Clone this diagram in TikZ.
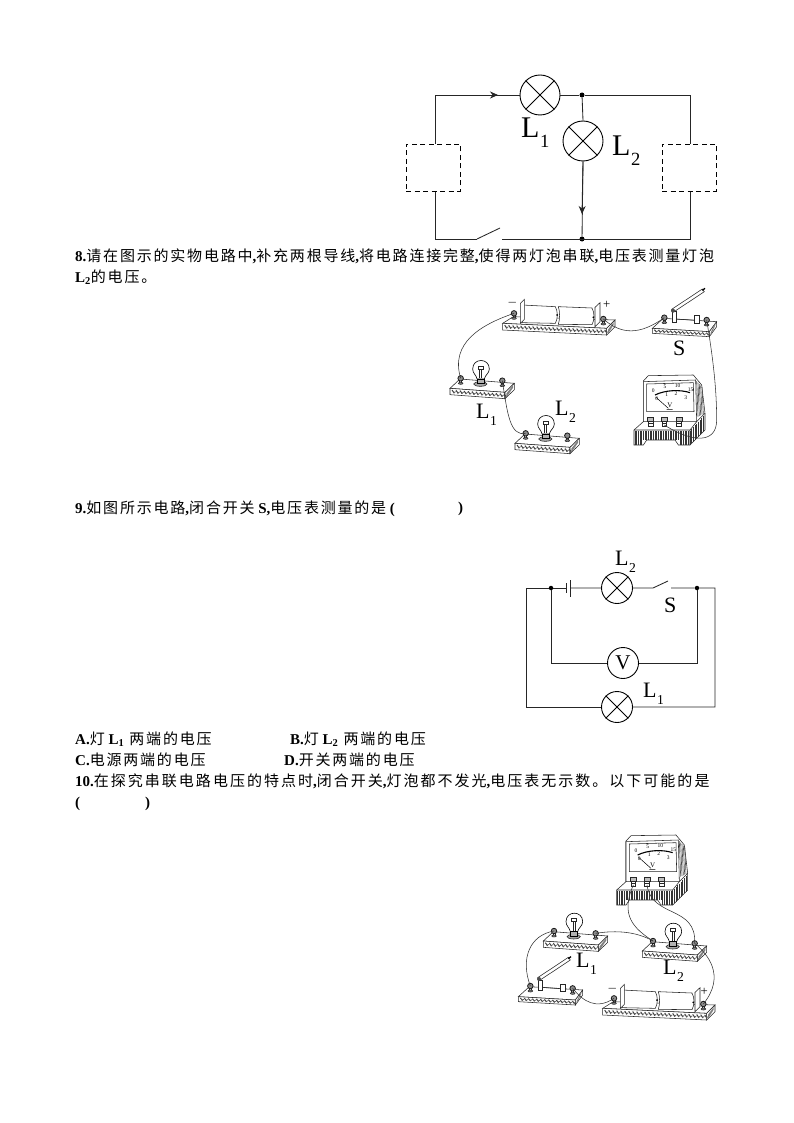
\documentclass[tikz,border=0pt]{standalone}
\usepackage{fontspec}
\setmainfont{Liberation Serif}
\newfontfamily\cjk[LetterSpace=12]{Noto Sans CJK SC}
\newfontfamily\cjkwide[LetterSpace=13.4]{Noto Sans CJK SC}
\newcommand\lat[1]{{\rmfamily\bfseries #1}}
\newcommand\cm{{\rmfamily\bfseries ,}}
\newcommand\labL[1]{L\kern.02em\lower.33em\hbox{\scalebox{.62}{#1}}}
\usetikzlibrary{arrows.meta,calc}
\tikzset{
  wire/.style={line width=.85pt,black!85},
  thin wire/.style={line width=.55pt,black!80},
  xlamp/.style={draw,circle,inner sep=0pt,line width=.9pt,fill=white},
  meter/.style={draw,circle,inner sep=0pt,line width=.9pt,fill=white,font=\fontsize{21}{21}\selectfont},
  junction/.style={circle,fill=black,inner sep=0pt,minimum size=5pt},
  dashbox/.style={draw,dashed,dash pattern=on 5pt off 3.5pt,line width=.7pt,fill=white,minimum width=54pt,minimum height=47pt,inner sep=0pt},
  bodytext/.style={anchor=west,inner sep=0pt,font=\cjk\fontsize{15}{16}\selectfont},
  biglab/.style={inner sep=0pt,anchor=base west,font=\fontsize{30}{30}\selectfont},
  midlab/.style={inner sep=0pt,anchor=base west,font=\fontsize{22}{22}\selectfont},
  flow/.style={-{Stealth[length=8pt,width=7pt]}},
  part/.style={line width=.55pt,black!85},
  board/.style={part,fill=white},
  screw/.style={circle,fill=black!45,draw=black!90,line width=.8pt,inner sep=0pt},
}
\newcommand\crossed[1]{\draw[line width=.8pt] (#1.45)--(#1.225) (#1.135)--(#1.315);}
\newcommand\woodboard[7]{%
  \draw[board] (0,0)--(#1,#2)--(#3,#4)--(#5,#6)--cycle;
  \draw[board] (0,0)--(#1,#2)--(#1,#2+#7)--(0,#7)--cycle;
  \draw[board] (#1,#2)--(#3,#4)--(#3,#4+#7)--(#1,#2+#7)--cycle;
  \pgfmathsetmacro\wlen{#1}
  \foreach \u in {6,18,...,\wlen}{
    \pgfmathsetmacro\vv{#2*\u/#1}
    \draw[line width=1pt,black!75] (\u,\vv+.25*#7)--(\u+7,\vv+.75*#7);
    \draw[line width=.7pt,black!65] (\u+4,\vv+.7*#7)--(\u+11,\vv+.5*#7);
  }
  \fill[black!50] (#1+4,#2+.2*#7)--(#3-4,#4+.3*#7)--(#3-4,#4+.7*#7)--(#1+4,#2+.8*#7)--cycle;
}
\newcommand\terminal[1]{%
  \draw[part] ($(#1)+(-3,6)$)--($(#1)+(-3,17)$) ($(#1)+(3,6)$)--($(#1)+(3,17)$);
  \draw[part,fill=black!50] ($(#1)+(0,15)$) ellipse[x radius=7,y radius=3];
  \node[screw,minimum size=5.5pt] at (#1) {};
}
\newcommand\lampunit[2]{%
  \begin{scope}[shift={(#2)}]
    \woodboard{165}{12}{193}{-15}{30}{-28}{19}
    \coordinate (#1l) at (32,-30);
    \coordinate (#1r) at (157,-23);
    \terminal{#1l}\terminal{#1r}
    \draw[part,fill=black!35] (91,-13) ellipse[x radius=20,y radius=7];
    \draw[line width=.6pt,fill=white] (81,-28) .. controls (79,-40) and (68,-45) .. (68,-58) .. controls (68,-92) and (118,-92) .. (118,-58) .. controls (118,-45) and (105,-40) .. (103,-28) -- cycle;
    \draw[line width=.8pt,fill=black!30] (82,-28) rectangle (102,-15);
    \draw[part] (85,-67) rectangle (99,-58) (89,-58)--(89,-30) (95,-58)--(95,-30);
  \end{scope}}
\newcommand\switchunit[2]{%
  \begin{scope}[shift={(#2)}]
    \woodboard{171}{10}{193}{-20}{33}{-30}{15}
    \coordinate (#1l) at (36,-32);
    \coordinate (#1r) at (163,-25);
    \terminal{#1l}\terminal{#1r}
    \draw[part] (70,-28)--(135,-24);
    \draw[part,fill=white] (127,-38) rectangle (142,-16);
    \draw[part,fill=white] (60,-50) rectangle (72,-18);
    \draw[part,fill=white] (58,-57)--(150,-118)--(156,-110)--(64,-49)--cycle;
    \draw[line width=1.3pt] (150,-114)--(158,-120);
    \fill[black!70] (62,-53) circle[radius=6];
  \end{scope}}
\newcommand\batteryunit[2]{%
  \begin{scope}[shift={(#2)}]
    \woodboard{312}{15}{337}{-10}{32}{-20}{20}
    \coordinate (#1l) at (34,-30);
    \coordinate (#1r) at (302,-13);
    \terminal{#1l}\terminal{#1r}
    \draw[part,fill=white] (277,-48)--(292,-62)--(292,-5)--(277,10)--cycle;
    \draw[part,fill=white] (167,-50)--(268,-46) .. controls (276,-32) and (276,-10) .. (268,4)--(167,3) .. controls (172,-12) and (172,-35) .. (167,-50)--cycle;
    \draw[part,fill=white] (58,-55)--(158,-50) .. controls (166,-35) and (166,-15) .. (158,0)--(58,-2)--cycle;
    \draw[part,fill=white] (53,-60)--(65,-72)--(65,-12)--(53,0)--cycle;
    \fill (163,-25) circle[radius=3] (272,-18) circle[radius=3];
  \end{scope}}
\newcommand\voltunit[2]{%
  \begin{scope}[shift={(#2)}]
    \draw[part,fill=white] (612,450)--(640,425)--(640,303)--(655,287)--(790,285)--(815,315)--(825,400)--(825,450)--(780,495)--(745,495)--(735,480)--(650,480)--(640,495)--(612,495)--cycle;
    \draw[part] (612,450)--(780,450)--(780,495) (780,450)--(800,425)--(825,400);
    \foreach \xx in {615,620,...,780}{\draw[line width=.6pt,black!80] (\xx,452)--(\xx,\ifnum\xx<640 494\else\ifnum\xx>745 494\else 479\fi\fi);}
    \foreach \xx in {785,790,...,823}{\pgfmathsetmacro\yy{450-(\xx-780)*50/45}\pgfmathsetmacro\zz{495-(\xx-780)}\draw[line width=.6pt,black!80] (\xx,\yy+3)--(\xx,\zz);}
    \foreach \xx in {800,804,...,816}{\pgfmathsetmacro\ytop{300+(\xx-797)*1.1}\draw[line width=.6pt,black!70] (\xx,\ytop)--(\xx+4,420-\xx/2+390);}
    \draw[part,fill=white] (640,305)--(640,425)--(800,425)--(797,300)--cycle;
    \draw[part] (650,312)--(790,308)--(792,395)--(650,395)--cycle;
    \draw[line width=1.1pt] (675,345) .. controls (705,330) and (750,328) .. (780,338);
    \draw[line width=.5pt] (678,352)--(715,385) (710,389)--(728,389);
    \foreach \px/\py/\tx in {670/332/0,705/320/5,743/318/10,782/330/15,680/355/0,710/343/1,738/342/2,767/352/3}{\node[inner sep=0pt,font=\fontsize{5.5}{5.5}\selectfont] at (\px,\py) {\tx};}
    \node[inner sep=0pt,font=\fontsize{7}{7}\selectfont] at (720,376) {V};
    \coordinate (#1a) at (662,435);
    \coordinate (#1b) at (703,435);
    \coordinate (#1c) at (747,435);
    \foreach \tt in {a,b,c}{\draw[part,fill=black!25] ($(#1\tt)+(-9,-23)$) rectangle ($(#1\tt)+(9,-12)$);\draw[part,fill=white] ($(#1\tt)+(-7,-12)$) rectangle ($(#1\tt)+(7,5)$);\draw[part] ($(#1\tt)+(-7,-4)$)--($(#1\tt)+(7,-4)$);}
  \end{scope}}
\begin{document}
\begin{tikzpicture}[x=1pt,y=-1pt]
\useasboundingbox (0,0) rectangle (794,1123);
\fill[white] (0,0) rectangle (794,1123);
% figure 1
\node[xlamp,minimum size=40pt] (A1) at (540,95) {};
\node[xlamp,minimum size=40pt] (A2) at (583,141) {};
\crossed{A1}\crossed{A2}
\node[junction] (Jt) at (582,95) {};
\node[junction] (Jb) at (582,239) {};
\coordinate (Ctl) at (435,95);
\coordinate (Ctr) at (690,95);
\coordinate (Cbl) at (435,239);
\coordinate (Cbr) at (690,239);
\coordinate (Sa) at (477,239);
\coordinate (Sb) at (500,228);
\coordinate (Sc) at (502,239);
\draw[wire] (Cbl)--(Ctl)--(A1.west);
\draw[wire,flow] (Ctl)--(498,95);
\draw[wire] (A1.east)--(Jt)--(Ctr)--(Cbr)--(Sc) (Sa)--(Cbl);
\draw[wire] (Sa)--(Sb);
\draw[wire] (Jt)--(A2.north);
\draw[wire] (A2.south)--(Jb);
\draw[wire,flow] (A2.south)--(582,214);
\node[dashbox] (Bx1) at (433,167.5) {};
\node[dashbox] (Bx2) at (689,167.5) {};
\node[biglab] (tL1) at (521,138) {\labL{1}};
\node[biglab] (tL2) at (612,156) {\labL{2}};
% text
\node[bodytext] (t1) at (75,256.5) {\lat{8.}请在图示的实物电路中\cm 补充两根导线\cm 将电路连接完整\cm 使得两灯泡串联\cm 电压表测量灯泡};
\node[bodytext] (t2) at (75,277) {\lat{L\textsubscript{2}}的电压。};
\node[bodytext] (t3) at (75,508.5) {\lat{9.}如图所示电路\cm 闭合开关\lat{ S,}电压表测量的是\lat{ (}};
\node[bodytext] (t3b) at (458,508.5) {\lat{)}};
\node[bodytext] (t4) at (75,739.5) {\lat{A.}灯\lat{ L\textsubscript{1}} 两端的电压};
\node[bodytext] (t5) at (290,739.5) {\lat{B.}灯\lat{ L\textsubscript{2}} 两端的电压};
\node[bodytext] (t6) at (75,760) {\lat{C.}电源两端的电压};
\node[bodytext] (t7) at (284,760) {\lat{D.}开关两端的电压};
\node[bodytext,font=\cjkwide\fontsize{15}{16}\selectfont] (t8) at (75,781) {\lat{10.}在探究串联电路电压的特点时\cm 闭合开关\cm 灯泡都不发光\cm 电压表无示数。以下可能的是};
\node[bodytext] (t9) at (75,804) {\lat{(}};
\node[bodytext] (t9b) at (145,804) {\lat{)}};
% figure 3
\node[xlamp,minimum size=31pt] (C2) at (617,588) {};
\node[xlamp,minimum size=31pt] (C1) at (617,707) {};
\crossed{C2}\crossed{C1}
\node[meter,minimum size=31pt] (CV) at (623,663) {V};
\node[junction,minimum size=4.5pt] (Jl) at (551,588) {};
\node[junction,minimum size=4.5pt] (Jr) at (697,588) {};
\coordinate (Dtl) at (526,588);
\coordinate (Dbl) at (526,707);
\coordinate (Dtr) at (715,588);
\coordinate (Dbr) at (715,707);
\coordinate (Dvl) at (551,663);
\coordinate (Dvr) at (697,663);
\coordinate (Ba) at (566,588);
\coordinate (Bb) at (570,588);
\coordinate (Ka) at (653,588);
\coordinate (Kb) at (668,581);
\coordinate (Kc) at (671,588);
\draw[wire] (C1.west)--(Dbl)--(Dtl)--(Jl)--(Ba);
\draw[wire] (Bb)--(C2.west) (C2.east)--(Ka)--(Kb) (Kc)--(Jr)--(Dtr)--(Dbr)--(C1.east);
\draw[wire] (Jl)--(Dvl)--(CV.west) (CV.east)--(Dvr)--(Jr);
\draw[wire] (566,583)--(566,593) (570,580)--(570,597);
\node[midlab] (cL2) at (615,565) {\labL{2}};
\node[midlab] (cL1) at (643,697) {\labL{1}};
\node[midlab] (cS) at (664,612) {S};
% figure 2
\begin{scope}[shift={(430,280)},scale=1/3]
  \batteryunit{bA}{218,130}
  \switchunit{sA}{667,145}
  \lampunit{pA}{60,325}
  \lampunit{qA}{255,490}
  \voltunit{vA}{0,0}
  \draw[thin wire] (bAl) .. controls (150,135) and (60,190) .. (pAl);
  \draw[thin wire] (pAr) .. controls (232,400) and (240,470) .. (qAl);
  \draw[thin wire] (bAr) .. controls (575,165) and (630,165) .. (sAl);
  \draw[thin wire] (sAr) .. controls (850,240) and (860,330) .. (860,420) .. controls (860,490) and (790,490) .. (vAb);
  \node[inner sep=0pt,font=\fontsize{7}{7}\selectfont,scale=1.6] (mA) at (247,67) {$-$};
  \node[inner sep=0pt,font=\fontsize{8}{8}\selectfont,scale=1.6] (nA) at (530,75) {+};
\end{scope}
\node[midlab] (bL1) at (476,418) {\labL{1}};
\node[midlab] (bL2) at (555,415) {\labL{2}};
\node[midlab] (bS) at (673,355) {S};
% figure 4
\begin{scope}[shift={(510,825)},scale=1/3]
  \batteryunit{bB}{278,550}
  \switchunit{sB}{25,515}
  \lampunit{pB}{100,348}
  \lampunit{qB}{397,378}
  \voltunit{vB}{-292,-255}
  \draw[thin wire] (pBl) .. controls (60,330) and (30,400) .. (sBl);
  \draw[thin wire] (pBr) .. controls (320,315) and (380,320) .. (qBl);
  \draw[thin wire] (vBa) .. controls (330,270) and (370,310) .. (qBl);
  \draw[thin wire] (vBb) .. controls (425,280) and (560,240) .. (qBr);
  \draw[thin wire] (qBr) .. controls (590,385) and (650,450) .. (bBr);
  \draw[thin wire] (sBr) .. controls (220,530) and (260,555) .. (bBl);
  \node[inner sep=0pt,font=\fontsize{7}{7}\selectfont,scale=1.6] (mB) at (307,490) {$-$};
  \node[inner sep=0pt,font=\fontsize{8}{8}\selectfont,scale=1.6] (nB) at (583,500) {+};
\end{scope}
\node[midlab] (dL1) at (576,967) {\labL{1}};
\node[midlab] (dL2) at (663,974) {\labL{2}};
\end{tikzpicture}
\end{document}
